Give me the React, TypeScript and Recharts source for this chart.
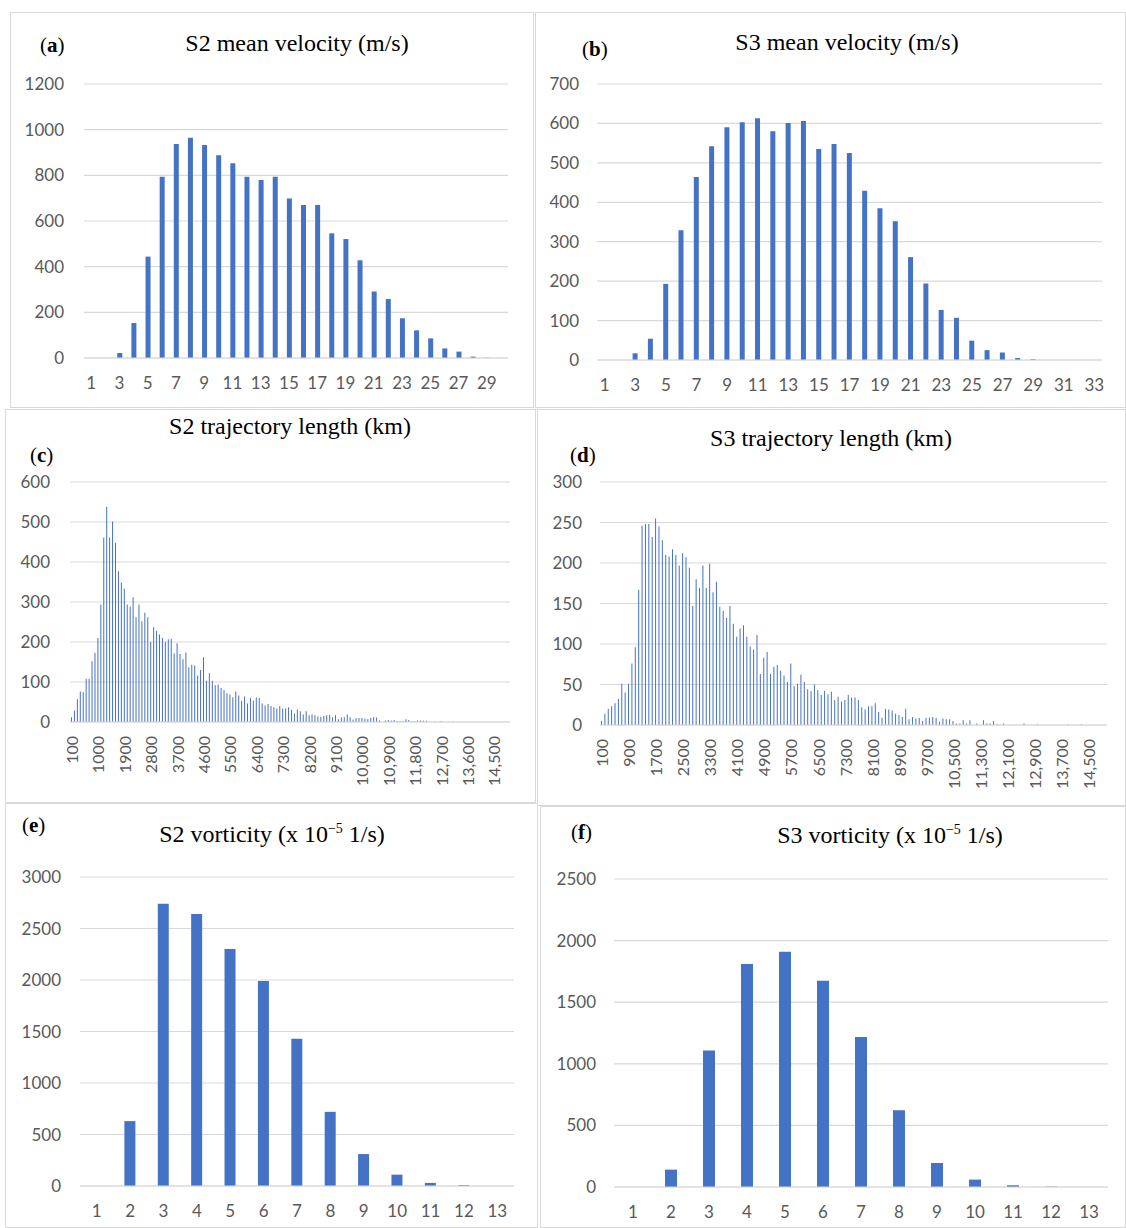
import React from 'react';
import { BarChart, Bar, XAxis, YAxis, CartesianGrid } from 'recharts';

// ---------- data ----------
const aCats = [1,2,3,4,5,6,7,8,9,10,11,12,13,14,15,16,17,18,19,20,21,22,23,24,25,26,27,28,29,30];
const aVals = [0,0,22,153,444,794,937,965,933,888,853,794,780,794,699,670,670,546,521,428,291,258,174,121,86,42,28,6,1,0];

const bCats = [1,2,3,4,5,6,7,8,9,10,11,12,13,14,15,16,17,18,19,20,21,22,23,24,25,26,27,28,29,30,31,32,33];
const bVals = [0,0,17,54,193,329,464,542,590,603,613,580,601,606,535,548,525,429,385,352,261,194,127,107,49,25,19,5,2,0,0,0,0];

const cVals = [
  12,29,57,76,75,108,108,152,173,210,
  294,461,538,461,501,448,377,349,333,294,
  289,312,262,294,252,273,262,200,237,228,
  219,210,200,207,208,171,197,170,157,174,
  137,143,141,116,130,162,103,122,103,92,
  94,85,80,72,69,62,76,66,53,64,
  46,60,53,61,60,46,41,45,40,37,
  34,40,34,34,37,30,21,31,27,
  19,27,17,19,17,14,13,15,17,18,
  12,17,7,12,12,19,12,6,10,10,
  10,9,7,10,12,11,4,0,4,5,
  4,5,2,2,2,7,5,2,2,4,
  4,3,3,0,0,1,0,2,
  0,0,0,1,0,0,0,0,0,0,0,0,0,0,0,0,0,0,0,0,0,0,0,
];

const dVals = [
  5,14,20,23,27,32,51,40,51,76,
  96,167,246,248,248,232,255,245,228,210,
  208,217,210,197,212,207,194,147,180,169,
  197,169,199,164,177,146,141,132,147,125,
  109,119,123,109,97,93,111,63,83,90,
  63,72,74,67,61,53,76,48,51,62,
  53,44,42,50,43,37,42,38,41,31,
  35,29,31,
  37,34,34,31,22,19,23,23,27,16,
  9,20,19,18,14,12,10,20,7,10,
  8,9,5,9,9,10,9,4,8,7,
  7,5,2,2,6,2,6,0,2,0,
  6,2,2,5,1,
  0,2,0,0,0,0,0,2,0,0,0,1,0,0,0,0,0,0,0,0,1,0,0,0,1,
  0,0,0,0,0,0,0,
];

const eCats = [1,2,3,4,5,6,7,8,9,10,11,12,13];
const eVals = [0,630,2740,2640,2300,1990,1430,720,310,110,30,8,0];
const fVals = [0,141,1108,1810,1910,1675,1217,623,195,60,14,3,0];

const binStart = 100;
const binStep = 100;
const fmtBin = (n: number) => (n >= 10000 ? n.toLocaleString('en-US') : String(n));
const cCats = cVals.map((_, i) => fmtBin(binStart + i * binStep));
const dCats = dVals.map((_, i) => fmtBin(binStart + i * binStep));

const aTicks = [0,200,400,600,800,1000,1200];
const bTicks = [0,100,200,300,400,500,600,700];
const cTicks = [0,100,200,300,400,500,600];
const dTicks = [0,50,100,150,200,250,300];
const eTicks = [0,500,1000,1500,2000,2500,3000];
const fTicks = [0,500,1000,1500,2000,2500];

const toData = (cats: (number | string)[], vals: number[]) => cats.map((c, i) => ({ cat: c, v: vals[i] }));

// ---------- style ----------
const BAR = '#4472C4';
const GRID = '#d9d9d9';
const LBL = '#595959';
const SANS = 'Lato, "Open Sans", sans-serif';
const SERIF = '"Liberation Serif", "Times New Roman", serif';

const RotTick = (props: any) => {
  const { x, y, payload } = props;
  return (
    <text
      x={x}
      y={y}
      transform={`rotate(-90 ${x} ${y})`}
      textAnchor="end"
      dominantBaseline="central"
      fill={LBL}
      fontSize={16}
      fontFamily={SANS}
    >
      {payload.value}
    </text>
  );
};

type HistProps = {
  data: any[];
  left: number;
  right: number;
  top: number;
  bottom: number;
  ticks: number[];
  barSize: number;
  interval: number;
  rotated?: boolean;
  gap: number;
};

function Hist({ data, left, right, top, bottom, ticks, barSize, interval, rotated, gap }: HistProps) {
  const YW = 70;
  const mt = 12;
  const mr = 20;
  const xh = rotated ? 90 : 45;
  const w = right - left;
  const h = bottom - top;
  return (
    <div style={{ position: 'absolute', left: left - YW, top: top - mt }}>
      <BarChart
        width={w + YW + mr}
        height={h + mt + xh}
        data={data}
        margin={{ top: mt, right: mr, left: 0, bottom: 0 }}
        barCategoryGap={0}
      >
        <CartesianGrid vertical={false} stroke={GRID} strokeWidth={1.2} />
        <XAxis
          dataKey="cat"
          interval={interval}
          tickLine={false}
          axisLine={{ stroke: GRID, strokeWidth: 1.2 }}
          tickSize={0}
          tickMargin={rotated ? 14 : 19}
          height={xh}
          tick={rotated ? <RotTick /> : { fill: LBL, fontSize: 17, fontFamily: SANS }}
        />
        <YAxis
          width={YW}
          domain={[0, ticks[ticks.length - 1]]}
          ticks={ticks}
          tickLine={false}
          axisLine={false}
          tickSize={0}
          tickMargin={gap}
          tick={{ fill: LBL, fontSize: 17, fontFamily: SANS }}
        />
        <Bar dataKey="v" fill={BAR} barSize={barSize} isAnimationActive={false} />
      </BarChart>
    </div>
  );
}

const Box = ({ l, t, w, h }: { l: number; t: number; w: number; h: number }) => (
  <div
    style={{
      position: 'absolute',
      left: l,
      top: t,
      width: w,
      height: h,
      border: `1px solid ${GRID}`,
      boxSizing: 'border-box',
    }}
  />
);

const Title = ({ cx, cy, children }: { cx: number; cy: number; children: React.ReactNode }) => (
  <div
    style={{
      position: 'absolute',
      left: cx - 250,
      top: cy - 16,
      width: 500,
      textAlign: 'center',
      fontFamily: SERIF,
      fontSize: 24,
      lineHeight: '28px',
      color: '#000',
      whiteSpace: 'nowrap',
    }}
  >
    {children}
  </div>
);

const Tag = ({ x, cy, letter }: { x: number; cy: number; letter: string }) => (
  <div
    style={{
      position: 'absolute',
      left: x,
      top: cy - 13,
      fontFamily: SERIF,
      fontSize: 21,
      lineHeight: '24px',
      color: '#000',
      whiteSpace: 'nowrap',
    }}
  >
    (<b>{letter}</b>)
  </div>
);

const Sup = ({ children }: { children: React.ReactNode }) => (
  <span style={{ fontSize: 14, position: 'relative', top: -9, lineHeight: 0 }}>{children}</span>
);

export default function App() {
  return (
    <div
      style={{
        position: 'absolute',
        left: 0,
        top: 0,
        width: 1126,
        height: 1228,
        background: '#fff',
        overflow: 'hidden',
      }}
    >
      <Box l={10} t={12} w={524} h={396} />
      <Box l={535} t={12} w={591} h={396} />
      <Box l={5} t={409} w={531} h={394} />
      <Box l={537} t={409} w={589} h={397} />
      <Box l={5} t={803} w={533} h={425} />
      <Box l={540} t={806} w={586} h={422} />

      <Tag x={40} cy={46} letter="a" />
      <Title cx={297} cy={45}>S2 mean velocity (m/s)</Title>
      <Hist data={toData(aCats, aVals)} left={84} right={508} top={84} bottom={358} ticks={aTicks} barSize={5} interval={1} gap={20} />

      <Tag x={582} cy={50} letter="b" />
      <Title cx={847} cy={44}>S3 mean velocity (m/s)</Title>
      <Hist data={toData(bCats, bVals)} left={597} right={1102} top={84} bottom={360} ticks={bTicks} barSize={5} interval={1} gap={18} />

      <Title cx={290} cy={428}>S2 trajectory length (km)</Title>
      <Tag x={30} cy={456} letter="c" />
      <Hist data={toData(cCats, cVals)} left={70} right={510} top={482} bottom={722} ticks={cTicks} barSize={1} interval={8} rotated gap={20} />

      <Title cx={831} cy={440}>S3 trajectory length (km)</Title>
      <Tag x={570} cy={456} letter="d" />
      <Hist data={toData(dCats, dVals)} left={600} right={1107} top={482} bottom={725} ticks={dTicks} barSize={1} interval={7} rotated gap={18} />

      <Tag x={22} cy={826} letter="e" />
      <Title cx={272} cy={836}>
        S2 vorticity (x 10<Sup>−5</Sup> 1/s)
      </Title>
      <Hist data={toData(eCats, eVals)} left={80} right={514} top={877} bottom={1186} ticks={eTicks} barSize={11} interval={0} gap={19} />

      <Tag x={571} cy={833} letter="f" />
      <Title cx={890} cy={837}>
        S3 vorticity (x 10<Sup>−5</Sup> 1/s)
      </Title>
      <Hist data={toData(eCats, fVals)} left={614} right={1108} top={879} bottom={1187} ticks={fTicks} barSize={12} interval={0} gap={18} />
    </div>
  );
}
